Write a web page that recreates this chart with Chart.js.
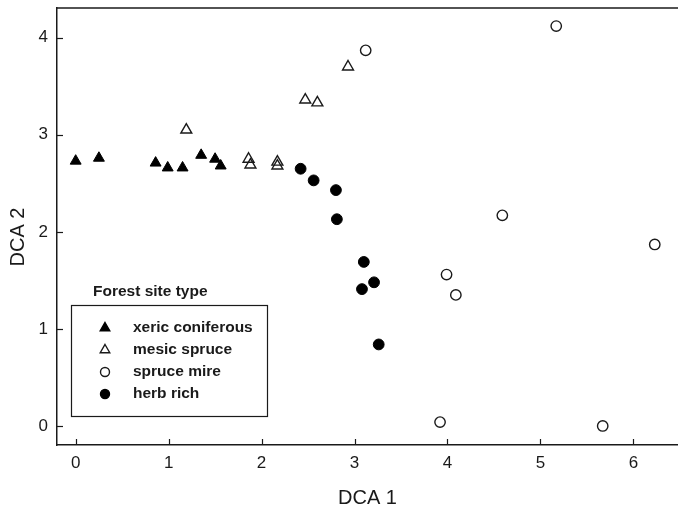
<!DOCTYPE html>
<html lang="en">
<head>
    <title>DCA ordination</title>
    <script src="https://cdn.jsdelivr.net/npm/chart.js"></script>
    <style>
        body { margin: 0; background: #fff; }
    </style>
</head>
<body>
    <canvas id="dcaChart" width="678" height="511"></canvas>

    <script>
        // site scores
        const xericX = [0.00, 0.25, 0.86, 0.99, 1.15, 1.35, 1.50, 1.56];
        const xericY = [2.73, 2.76, 2.71, 2.66, 2.66, 2.79, 2.75, 2.68];
        const mesicX = [1.19, 1.86, 1.88, 2.17, 2.17, 2.47, 2.60, 2.93];
        const mesicY = [3.05, 2.75, 2.69, 2.72, 2.68, 3.36, 3.33, 3.70];
        const mireX = [3.12, 5.17, 4.59, 3.99, 4.09, 6.23, 3.92, 5.67];
        const mireY = [3.87, 4.12, 2.17, 1.56, 1.35, 1.87, 0.04, 0.00];
        const herbX = [2.42, 2.56, 2.80, 2.81, 3.10, 3.08, 3.21, 3.26];
        const herbY = [2.65, 2.53, 2.43, 2.13, 1.69, 1.41, 1.48, 0.84];

        const xTicks = [0, 1, 2, 3, 4, 5, 6];
        const yTicks = [0, 1, 2, 3, 4];
        const groupNames = ['xeric coniferous', 'mesic spruce', 'spruce mire', 'herb rich'];

        const FONT = "'Liberation Sans', Arial, Helvetica, sans-serif";
        const INK = '#1a1a1a';

        function pairs(xs, ys) {
            return xs.map((x, i) => ({ x: x, y: ys[i] }));
        }

        // draws a single marker like the ones chart.js uses
        function marker(ctx, style, x, y, r, fill, stroke) {
            ctx.beginPath();
            if (style === 'triangle') {
                let a = 0;
                ctx.moveTo(x + Math.sin(a) * r, y - Math.cos(a) * r);
                a += 2 * Math.PI / 3;
                ctx.lineTo(x + Math.sin(a) * r, y - Math.cos(a) * r);
                a += 2 * Math.PI / 3;
                ctx.lineTo(x + Math.sin(a) * r, y - Math.cos(a) * r);
                ctx.closePath();
            } else {
                ctx.arc(x, y, r, 0, Math.PI * 2);
            }
            if (fill !== 'transparent') {
                ctx.fillStyle = fill;
                ctx.fill();
            }
            ctx.lineWidth = 1.4;
            ctx.strokeStyle = stroke;
            ctx.stroke();
        }

        // frame line on top, inward tick marks, y title
        const frameTicks = {
            id: 'frameTicks',
            afterDraw(chart) {
                const ctx = chart.ctx;
                const area = chart.chartArea;
                const xs = chart.scales.x;
                const ys = chart.scales.y;
                ctx.save();
                ctx.strokeStyle = INK;
                ctx.lineWidth = 1.5;
                ctx.beginPath();
                ctx.moveTo(area.left, area.top);
                ctx.lineTo(area.right, area.top);
                ctx.stroke();
                ctx.lineWidth = 1.2;
                xs.ticks.forEach(t => {
                    const px = Math.round(xs.getPixelForValue(t.value)) + 0.5;
                    ctx.beginPath();
                    ctx.moveTo(px, area.bottom);
                    ctx.lineTo(px, area.bottom - 6);
                    ctx.stroke();
                });
                ys.ticks.forEach(t => {
                    const py = Math.round(ys.getPixelForValue(t.value)) + 0.5;
                    ctx.beginPath();
                    ctx.moveTo(area.left, py);
                    ctx.lineTo(area.left + 6, py);
                    ctx.stroke();
                });

                // y title sits a bit below the middle in the original
                ctx.translate(18, 237);
                ctx.rotate(-Math.PI / 2);
                ctx.fillStyle = INK;
                ctx.font = '20px ' + FONT;
                ctx.textAlign = 'center';
                ctx.textBaseline = 'middle';
                ctx.fillText('DCA 2', 0, 0);
                ctx.restore();
            }
        };

        // boxed legend inside the plot, built from the datasets
        const boxLegend = {
            id: 'boxLegend',
            afterDraw(chart) {
                const ctx = chart.ctx;
                ctx.save();
                ctx.fillStyle = INK;
                ctx.font = 'bold 15.5px ' + FONT;
                ctx.textBaseline = 'middle';
                ctx.textAlign = 'left';
                ctx.fillText('Forest site type', 93, 292);

                ctx.strokeStyle = INK;
                ctx.lineWidth = 1.2;
                ctx.strokeRect(71.5, 305.5, 196, 111);

                chart.data.datasets.forEach((ds, i) => {
                    const y = 328 + i * 22;
                    const r = ds.pointStyle === 'triangle' ? 5.5 : 4.5;
                    marker(ctx, ds.pointStyle, 105, y, r, ds.pointBackgroundColor, ds.pointBorderColor);
                    ctx.fillStyle = INK;
                    ctx.fillText(ds.label, 133, y);
                });
                ctx.restore();
            }
        };

        const ctx = document.getElementById('dcaChart').getContext('2d');

        new Chart(ctx, {
            type: 'scatter',
            data: {
                datasets: [
                    {
                        label: groupNames[0],
                        data: pairs(xericX, xericY),
                        pointStyle: 'triangle',
                        pointRadius: 6.3,
                        pointBackgroundColor: '#000',
                        pointBorderColor: '#000',
                        pointBorderWidth: 1,
                    },
                    {
                        label: groupNames[1],
                        data: pairs(mesicX, mesicY),
                        pointStyle: 'triangle',
                        pointRadius: 6.3,
                        pointBackgroundColor: 'transparent',
                        pointBorderColor: INK,
                        pointBorderWidth: 1.4,
                    },
                    {
                        label: groupNames[2],
                        data: pairs(mireX, mireY),
                        pointStyle: 'circle',
                        pointRadius: 5.2,
                        pointBackgroundColor: 'transparent',
                        pointBorderColor: INK,
                        pointBorderWidth: 1.4,
                    },
                    {
                        label: groupNames[3],
                        data: pairs(herbX, herbY),
                        pointStyle: 'circle',
                        pointRadius: 5.4,
                        pointBackgroundColor: '#000',
                        pointBorderColor: '#000',
                        pointBorderWidth: 1,
                    },
                ],
            },
            options: {
                responsive: false,
                animation: false,
                layout: { autoPadding: false, padding: { top: 8, right: 0, bottom: 0, left: 0 } },
                plugins: {
                    legend: { display: false },
                    tooltip: { enabled: false },
                },
                scales: {
                    x: {
                        type: 'linear',
                        min: -0.201,
                        max: 6.48,
                        afterBuildTicks: scale => { scale.ticks = xTicks.map(v => ({ value: v })); },
                        afterFit: scale => {
                            scale.height = 66;
                            scale.paddingLeft = 0;
                            scale.paddingRight = 0;
                        },
                        grid: { display: false, drawTicks: false },
                        border: { display: true, color: INK, width: 1.5 },
                        ticks: {
                            padding: 8,
                            color: INK,
                            font: { family: FONT, size: 17 },
                            maxRotation: 0,
                        },
                        title: {
                            display: true,
                            text: 'DCA 1',
                            color: INK,
                            font: { family: FONT, size: 20 },
                            padding: { top: 0, bottom: 1 },
                        },
                    },
                    y: {
                        type: 'linear',
                        min: -0.196,
                        max: 4.306,
                        afterBuildTicks: scale => { scale.ticks = yTicks.map(v => ({ value: v })); },
                        afterFit: scale => {
                            scale.width = 57;
                            scale.paddingTop = 0;
                            scale.paddingBottom = 0;
                        },
                        grid: { display: false, drawTicks: false },
                        border: { display: true, color: INK, width: 1.5 },
                        ticks: {
                            padding: 9,
                            color: INK,
                            font: { family: FONT, size: 17 },
                        },
                        title: { display: false },
                    },
                },
            },
            plugins: [frameTicks, boxLegend],
        });
    </script>
</body>
</html>
